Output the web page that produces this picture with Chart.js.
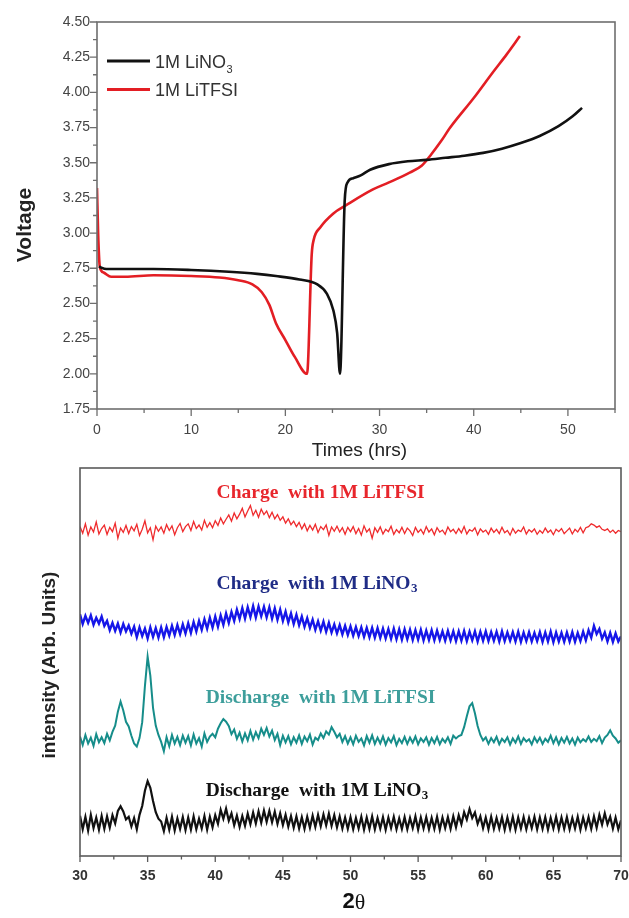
<!DOCTYPE html>
<html>
<head>
<meta charset="utf-8">
<script src="https://cdn.jsdelivr.net/npm/chart.js@4.4.0/dist/chart.umd.min.js"></script>
<style>
  html, body { margin: 0; padding: 0; background: #fff; }
  #wrap { position: relative; width: 629px; height: 918px; }
  #chartTop { position: absolute; left: 0; top: 0; }
  #chartXrd { position: absolute; left: 0; top: 462px; }
</style>
</head>
<body>
<div id="wrap">
  <canvas id="chartTop" width="629" height="462"></canvas>
  <canvas id="chartXrd" width="629" height="456"></canvas>
</div>
<script>
/***** 1) DATA — charge/discharge curves (top panel) *****/
const timeLiNO3 = [0.2, 1, 3, 6, 10, 14, 17, 19, 21.5, 23.4, 24.4, 25.1, 25.5, 25.8, 26.3, 26.6, 27.2, 28, 29, 31, 33, 35, 37, 39, 41, 43, 45, 47, 49, 50.5, 51.5];
const voltLiNO3 = [2.76, 2.745, 2.745, 2.745, 2.738, 2.725, 2.71, 2.695, 2.67, 2.635, 2.57, 2.45, 2.29, 2.0, 3.23, 3.36, 3.39, 3.41, 3.45, 3.49, 3.51, 3.52, 3.535, 3.55, 3.57, 3.6, 3.64, 3.69, 3.76, 3.83, 3.89];

const timeLiTFSI = [0, 0.12, 0.3, 0.7, 1.5, 3, 6, 10, 13, 15, 16.5, 17.5, 18.3, 19, 20, 21, 22.3, 22.8, 23.0, 23.7, 25.1, 26.5, 29.3, 31, 33.2, 34.5, 35.5, 36.5, 37.5, 40, 42, 43.5, 44.9];
const voltLiTFSI = [3.32, 3.0, 2.76, 2.72, 2.69, 2.69, 2.70, 2.695, 2.685, 2.665, 2.635, 2.58, 2.49, 2.36, 2.24, 2.12, 2.0, 2.85, 2.95, 3.04, 3.14, 3.2, 3.31, 3.36, 3.43, 3.48, 3.56, 3.65, 3.75, 3.96, 4.14, 4.27, 4.40];

const timeTicks     = [0, 10, 20, 30, 40, 50];
const timeMinor     = [5, 15, 25, 35, 45, 55];
const voltTicks     = [1.75, 2.00, 2.25, 2.50, 2.75, 3.00, 3.25, 3.50, 3.75, 4.00, 4.25, 4.50];
const voltMinor     = [1.875, 2.125, 2.375, 2.625, 2.875, 3.125, 3.375, 3.625, 3.875, 4.125, 4.375];

/***** 2) DATA — XRD patterns (bottom panel), 2θ from 30° every 0.2° *****/
const twoThetaStart = 30;
const twoThetaStep  = 0.2;
const twoThetaTicks = [30, 35, 40, 45, 50, 55, 60, 65, 70];
const twoThetaMinor = [32.5, 37.5, 42.5, 47.5, 52.5, 57.5, 62.5, 67.5];

const xrdChargeLiTFSI = [
  84.9, 83.2, 85.6, 82.7, 84.8, 83.5, 86.1, 83.0, 84.4, 85.3,
  82.9, 84.7, 83.6, 85.8, 81.9, 84.5, 83.4, 85.2, 83.1, 84.9,
  83.8, 85.5, 82.6, 84.2, 86.4, 83.3, 84.6, 81.5, 85.0, 83.7,
  84.8, 83.2, 85.4, 83.9, 85.1, 82.8, 84.6, 85.7, 83.6, 84.9,
  85.6, 83.9, 86.2, 84.4, 85.3, 84.0, 86.5, 84.7, 85.9, 84.6,
  86.4, 85.2, 87.1, 85.6, 86.8, 87.9, 86.3, 88.4, 86.9, 88.1,
  89.6, 87.4, 88.9, 90.3, 87.8, 89.1, 87.3, 89.4, 88.0, 88.9,
  87.2, 88.6, 86.9, 88.0, 86.5, 87.4, 85.8, 86.9, 85.4, 86.3,
  84.9, 86.0, 84.3, 85.6, 83.8, 85.2, 84.0, 85.5, 83.4, 84.9,
  84.1, 85.3, 82.6, 84.8, 83.7, 85.0, 83.5, 84.6, 82.9, 84.7,
  83.6, 84.9, 83.1, 84.4, 82.7, 85.1, 83.5, 84.3, 81.9, 84.6,
  83.4, 84.8, 83.0, 84.2, 83.6, 85.0, 82.9, 84.1, 83.3, 84.7,
  83.1, 84.5, 83.8, 82.6, 84.7, 83.4, 84.2, 83.0, 84.9, 83.5,
  84.3, 82.8, 84.6, 83.5, 84.0, 82.9, 84.8, 83.6, 84.2, 83.1,
  84.4, 83.3, 84.9, 83.0, 84.1, 83.7, 84.6, 82.8, 84.3, 83.5,
  84.0, 82.9, 84.5, 83.4, 84.2, 83.1, 84.7, 83.3, 83.9, 82.7,
  84.4, 83.2, 84.0, 83.6, 84.8, 83.0, 84.1, 83.5, 84.3, 82.9,
  83.9, 83.2, 84.5, 83.4, 84.0, 82.8, 84.2, 83.6, 84.4, 83.1,
  83.8, 84.5, 83.0, 84.2, 83.5, 84.7, 83.3, 84.6, 84.9, 85.6,
  85.3, 84.7, 85.1, 84.2, 83.9, 84.3, 83.4, 84.0, 83.2, 83.9,
  83.6
];

const xrdChargeLiNO3 = [
  62.3, 59.8, 61.9, 60.1, 62.0, 59.6, 61.4, 59.9, 61.7, 59.3,
  60.6, 58.2, 60.1, 58.0, 59.9, 57.6, 59.8, 57.9, 59.4, 57.3,
  59.1, 56.4, 58.9, 56.7, 58.6, 56.1, 58.9, 56.5, 58.7, 56.3,
  58.9, 56.4, 59.0, 56.8, 59.3, 57.0, 59.5, 57.2, 59.7, 57.4,
  60.0, 57.5, 60.3, 57.9, 60.6, 58.3, 61.0, 58.6, 61.4, 58.9,
  61.7, 59.1, 62.0, 59.6, 62.5, 60.1, 62.9, 60.6, 63.5, 61.1,
  63.9, 61.2, 64.1, 61.6, 64.4, 61.5, 64.3, 61.8, 64.2, 61.5,
  64.1, 61.2, 63.8, 60.9, 63.5, 60.6, 63.0, 60.2, 62.5, 59.8,
  62.2, 59.5, 61.7, 59.1, 61.3, 58.8, 60.9, 58.3, 60.5, 58.1,
  60.4, 57.8, 60.1, 57.6, 59.7, 57.4, 59.5, 57.1, 59.3, 57.0,
  59.2, 56.8, 59.0, 56.7, 58.9, 56.5, 58.8, 56.4, 58.8, 56.3,
  58.7, 56.2, 58.6, 56.1, 58.5, 56.0, 58.6, 55.9, 58.4, 55.8,
  58.4, 55.9, 58.3, 55.7, 58.2, 55.8, 58.3, 55.6, 58.1, 55.7,
  58.2, 55.6, 58.1, 55.7, 57.9, 55.5, 58.0, 55.6, 57.9, 55.4,
  57.9, 55.5, 58.0, 55.4, 57.8, 55.6, 57.9, 55.3, 57.8, 55.5,
  57.9, 55.4, 57.7, 55.5, 57.8, 55.3, 57.9, 55.4, 57.6, 55.5,
  57.7, 55.3, 57.8, 55.2, 57.6, 55.4, 57.7, 55.3, 57.5, 55.4,
  57.7, 55.2, 57.6, 55.3, 57.8, 55.1, 57.6, 55.3, 57.5, 55.2,
  57.6, 55.3, 57.7, 55.2, 57.5, 55.4, 57.8, 55.6, 58.2, 56.3,
  59.3, 57.2, 58.5, 56.0, 57.6, 55.3, 57.5, 55.2, 57.4, 55.3,
  56.6
];

const xrdDischargeLiTFSI = [
  30.8, 28.6, 31.2, 29.0, 30.5, 28.4, 31.4, 29.3, 30.6, 29.1,
  31.5, 29.8, 32.0, 33.6, 37.2, 39.8, 37.5, 34.6, 33.4, 31.0,
  29.0, 28.2, 30.4, 34.5, 43.8, 51.4, 46.5, 38.2, 33.6, 31.2,
  29.4, 27.0, 30.6, 28.3, 31.2, 29.0, 30.7, 28.6, 31.0, 29.2,
  30.9, 28.5, 31.3, 29.0, 30.4, 28.2, 31.6, 29.4, 30.8, 31.5,
  30.6, 32.8, 34.2, 35.3, 34.6, 33.5, 31.4, 32.6, 30.2, 31.8,
  29.5, 31.6, 29.8, 32.2, 30.0, 31.9, 30.4, 32.8, 31.2, 33.0,
  30.8, 32.3, 29.9, 31.5, 28.6, 31.0, 29.3, 30.9, 28.8, 30.6,
  29.2, 31.1, 28.9, 30.8, 29.6, 31.3, 28.7, 30.5, 29.9, 31.6,
  30.4, 32.1, 31.3, 33.2, 32.0, 30.6, 31.5, 29.4, 30.9, 29.0,
  30.6, 28.8, 31.0, 29.4, 30.3, 28.5, 30.9, 29.2, 31.1, 28.9,
  30.5, 29.0, 30.8, 28.7, 30.4, 29.3, 30.9, 28.6, 30.2, 29.1,
  30.7, 28.9, 30.5, 29.2, 30.8, 28.8, 30.3, 29.4, 30.6, 28.7,
  30.4, 29.1, 30.7, 28.8, 30.2, 29.3, 30.6, 28.9, 31.0, 30.3,
  30.9, 31.2, 33.2, 36.0, 38.6, 39.4, 36.8, 33.5, 31.2, 29.8,
  30.6, 28.9, 30.4, 29.3, 30.7, 28.8, 30.2, 29.4, 30.6, 28.7,
  30.3, 29.2, 30.8, 28.9, 30.4, 29.5, 30.1, 28.8, 30.6, 29.3,
  30.5, 28.9, 30.2, 29.4, 31.0, 29.1, 30.6, 28.8, 30.4, 29.2,
  30.7, 29.0, 30.3, 28.7, 30.5, 29.3, 30.1, 29.5, 30.8, 29.4,
  30.2, 29.6, 30.9, 29.1, 30.5, 31.2, 32.4, 31.0, 30.3, 29.2,
  29.8
];

const xrdDischargeLiNO3 = [
  10.4, 6.9, 10.1, 6.6, 10.6, 7.2, 9.9, 6.8, 10.3, 7.0,
  10.2, 7.3, 10.5, 8.4, 11.6, 12.8, 11.5, 9.4, 10.1, 7.6,
  9.8, 6.9, 10.6, 12.9, 16.8, 19.3, 17.6, 14.2, 11.3, 9.6,
  8.9, 6.4, 9.8, 6.8, 10.1, 6.6, 9.7, 7.0, 10.0, 6.7,
  9.9, 6.8, 10.2, 6.9, 9.6, 7.1, 10.3, 6.8, 10.1, 7.4,
  10.5, 8.3, 11.9, 9.6, 12.2, 9.1, 11.0, 7.9, 10.4, 7.5,
  10.3, 7.8, 10.9, 8.2, 11.2, 8.4, 11.5, 8.6, 11.7, 8.8,
  11.6, 8.7, 11.4, 8.3, 11.0, 8.0, 10.6, 7.6, 10.3, 7.3,
  10.2, 7.1, 10.0, 7.0, 10.1, 7.3, 10.4, 7.5, 10.6, 7.7,
  10.7, 7.9, 10.9, 7.8, 10.5, 7.4, 10.2, 7.1, 9.9, 7.0,
  10.0, 6.9, 9.8, 7.1, 10.1, 6.8, 9.9, 7.0, 10.2, 6.9,
  9.8, 7.1, 10.0, 6.8, 9.9, 7.2, 10.1, 6.9, 9.7, 7.0,
  10.0, 6.9, 9.8, 7.2, 10.2, 6.8, 9.9, 7.1, 10.0, 6.9,
  9.8, 7.0, 10.1, 6.8, 9.9, 7.2, 10.0, 7.0, 10.2, 7.4,
  10.5, 8.2, 11.3, 9.4, 12.1, 9.8, 11.2, 8.3, 10.2, 7.2,
  9.9, 6.9, 10.1, 7.0, 9.8, 7.1, 10.0, 6.8, 9.9, 7.0,
  10.1, 6.8, 9.9, 7.1, 10.0, 6.9, 9.8, 7.2, 10.1, 6.9,
  9.9, 7.0, 10.0, 6.8, 9.8, 7.1, 10.1, 6.9, 9.9, 7.0,
  10.0, 6.9, 9.8, 7.1, 10.1, 6.8, 9.9, 7.2, 10.0, 7.0,
  10.2, 7.3, 10.6, 8.1, 11.0, 8.2, 10.1, 7.1, 9.9, 6.9,
  9.2
];

/***** 3) HELPERS *****/
const pairs = (xs, ys) => xs.map((x, i) => ({ x, y: ys[i] }));
const xrdPoints = (ys) => ys.map((y, i) => ({ x: twoThetaStart + i * twoThetaStep, y }));

// text with a subscript tail (LiNO3)
function drawSubText(ctx, x, y, main, sub, font, subFont, color, subDy){
  ctx.font = font;
  ctx.fillStyle = color;
  ctx.textAlign = "left";
  ctx.textBaseline = "middle";
  ctx.fillText(main, x, y);
  if (sub){
    const w = ctx.measureText(main).width;
    ctx.font = subFont;
    ctx.fillText(sub, x + w + 0.5, y + subDy);
  }
}

function drawTicks(ctx, scale, values, len, horizontal, edge){
  ctx.beginPath();
  for (const v of values){
    const p = scale.getPixelForValue(v);
    if (horizontal){ ctx.moveTo(p, edge); ctx.lineTo(p, edge + len); }
    else { ctx.moveTo(edge, p); ctx.lineTo(edge - len, p); }
  }
  ctx.stroke();
}

// keep the plot box exactly where it is, whatever the edge labels need
const noEdgePad = (s) => { s.paddingLeft = 0; s.paddingRight = 0; };

/***** 4) PLUGINS (frame, minor ticks, titles, legend, labels) *****/
const topDecor = {
  id: "topDecor",
  afterDraw(chart){
    const { ctx, chartArea: a, scales: { x, y } } = chart;
    ctx.save();
    ctx.strokeStyle = "#6e6e6e";
    ctx.lineWidth = 1.6;
    ctx.strokeRect(a.left, a.top, a.right - a.left, a.bottom - a.top);
    ctx.lineWidth = 1.3;
    drawTicks(ctx, x, timeTicks, 7, true, a.bottom);
    drawTicks(ctx, x, timeMinor, 4, true, a.bottom);
    drawTicks(ctx, y, voltTicks, 7, false, a.left);
    drawTicks(ctx, y, voltMinor, 4, false, a.left);

    // legend
    ctx.lineWidth = 3;
    ctx.strokeStyle = "#111";
    ctx.beginPath(); ctx.moveTo(107, 61); ctx.lineTo(150, 61); ctx.stroke();
    ctx.strokeStyle = "#e31e24";
    ctx.beginPath(); ctx.moveTo(107, 89.5); ctx.lineTo(150, 89.5); ctx.stroke();
    drawSubText(ctx, 155, 63, "1M LiNO", "3", '18px "Liberation Sans"', '11px "Liberation Sans"', "#333", 7);
    drawSubText(ctx, 155, 91.5, "1M LiTFSI", "", '18px "Liberation Sans"', "", "#333", 0);

    // axis titles
    ctx.fillStyle = "#222";
    ctx.textAlign = "center";
    ctx.textBaseline = "middle";
    ctx.font = '19px "Liberation Sans"';
    ctx.fillText("Times (hrs)", 359.5, 451);
    ctx.translate(31, 225);
    ctx.rotate(-Math.PI / 2);
    ctx.textBaseline = "alphabetic";
    ctx.font = 'bold 21px "Liberation Sans"';
    ctx.fillText("Voltage", 0, 0);
    ctx.restore();
  }
};

const xrdDecor = {
  id: "xrdDecor",
  afterDraw(chart){
    const { ctx, chartArea: a, scales: { x, y } } = chart;
    ctx.save();
    ctx.strokeStyle = "#5a5a5a";
    ctx.lineWidth = 1.6;
    ctx.strokeRect(a.left, a.top, a.right - a.left, a.bottom - a.top);
    ctx.lineWidth = 1.3;
    drawTicks(ctx, x, twoThetaTicks, 6, true, a.bottom);
    drawTicks(ctx, x, twoThetaMinor, 3.5, true, a.bottom);

    // trace labels (placed in data coordinates)
    const serif = 'bold 19.5px "Liberation Serif"', serifSub = 'bold 13px "Liberation Serif"';
    drawSubText(ctx, x.getPixelForValue(40.1), y.getPixelForValue(93.6), "Charge  with 1M LiTFSI", "", serif, serifSub, "#e8262c", 0);
    drawSubText(ctx, x.getPixelForValue(40.1), y.getPixelForValue(70.2), "Charge  with 1M LiNO", "3", serif, serifSub, "#1f2c86", 5);
    drawSubText(ctx, x.getPixelForValue(39.3), y.getPixelForValue(40.7), "Discharge  with 1M LiTFSI", "", serif, serifSub, "#3d9e9b", 0);
    drawSubText(ctx, x.getPixelForValue(39.3), y.getPixelForValue(16.8), "Discharge  with 1M LiNO", "3", serif, serifSub, "#111", 5);

    // axis titles
    ctx.fillStyle = "#111";
    ctx.textBaseline = "middle";
    ctx.textAlign = "left";
    ctx.font = 'bold 22px "Liberation Sans"';
    const w2 = ctx.measureText("2").width;
    ctx.font = '22px "Liberation Serif"';
    const wt = ctx.measureText("θ").width;
    const x0 = 354 - (w2 + wt) / 2;
    ctx.font = 'bold 22px "Liberation Sans"';
    ctx.fillText("2", x0, 440);
    ctx.font = '22px "Liberation Serif"';
    ctx.fillText("θ", x0 + w2, 441);

    ctx.fillStyle = "#222";
    ctx.translate(54.5, 203);
    ctx.rotate(-Math.PI / 2);
    ctx.textAlign = "center";
    ctx.textBaseline = "alphabetic";
    ctx.font = 'bold 19px "Liberation Sans"';
    ctx.fillText("intensity (Arb. Units)", 0, 0);
    ctx.restore();
  }
};

/***** 5) CHARTS *****/
const noGrid = { display: false, drawTicks: false };

new Chart(document.getElementById("chartTop").getContext("2d"), {
  type: "line",
  data: {
    datasets: [
      { label: "1M LiNO3",  data: pairs(timeLiNO3, voltLiNO3),  borderColor: "#111",    borderWidth: 2.6, cubicInterpolationMode: "monotone" },
      { label: "1M LiTFSI", data: pairs(timeLiTFSI, voltLiTFSI), borderColor: "#e31e24", borderWidth: 2.6, cubicInterpolationMode: "monotone" }
    ]
  },
  options: {
    responsive: false,
    animation: false,
    layout: { padding: { left: 0, top: 22, right: 14, bottom: 0 } },
    elements: { point: { radius: 0 } },
    plugins: { legend: { display: false }, tooltip: { enabled: false } },
    scales: {
      x: {
        type: "linear", min: 0, max: 55,
        grid: noGrid, border: { display: false },
        afterBuildTicks: s => { s.ticks = timeTicks.map(v => ({ value: v })); },
        afterFit: s => { s.height = 53; noEdgePad(s); },
        ticks: { padding: 13, color: "#444", font: { family: "Liberation Sans", size: 14 }, maxRotation: 0,
                 callback: v => String(v) }
      },
      y: {
        type: "linear", min: 1.75, max: 4.5,
        grid: noGrid, border: { display: false },
        afterBuildTicks: s => { s.ticks = voltTicks.map(v => ({ value: v })); },
        afterFit: s => { s.width = 97; },
        ticks: { padding: 7, color: "#444", font: { family: "Liberation Sans", size: 14 },
                 callback: v => Number(v).toFixed(2) }
      }
    }
  },
  plugins: [topDecor]
});

new Chart(document.getElementById("chartXrd").getContext("2d"), {
  type: "line",
  data: {
    datasets: [
      { label: "Charge with 1M LiTFSI",    data: xrdPoints(xrdChargeLiTFSI),    borderColor: "#ef2b2d", borderWidth: 1.3 },
      { label: "Charge with 1M LiNO3",     data: xrdPoints(xrdChargeLiNO3),     borderColor: "#1616e8", borderWidth: 2.4 },
      { label: "Discharge with 1M LiTFSI", data: xrdPoints(xrdDischargeLiTFSI), borderColor: "#168d8a", borderWidth: 2 },
      { label: "Discharge with 1M LiNO3",  data: xrdPoints(xrdDischargeLiNO3),  borderColor: "#111",    borderWidth: 2.2 }
    ]
  },
  options: {
    responsive: false,
    animation: false,
    layout: { padding: { left: 0, top: 6, right: 8, bottom: 0 } },
    elements: { point: { radius: 0 }, line: { tension: 0 } },
    plugins: { legend: { display: false }, tooltip: { enabled: false } },
    scales: {
      x: {
        type: "linear", min: 30, max: 70,
        grid: noGrid, border: { display: false },
        afterBuildTicks: s => { s.ticks = twoThetaTicks.map(v => ({ value: v })); },
        afterFit: s => { s.height = 62; noEdgePad(s); },
        ticks: { padding: 12, color: "#333", font: { family: "Liberation Sans", size: 14, weight: "bold" }, maxRotation: 0,
                 callback: v => String(v) }
      },
      y: {
        type: "linear", min: 0, max: 100,
        grid: noGrid, border: { display: false },
        afterFit: s => { s.width = 80; },
        ticks: { display: false }
      }
    }
  },
  plugins: [xrdDecor]
});
</script>
</body>
</html>
